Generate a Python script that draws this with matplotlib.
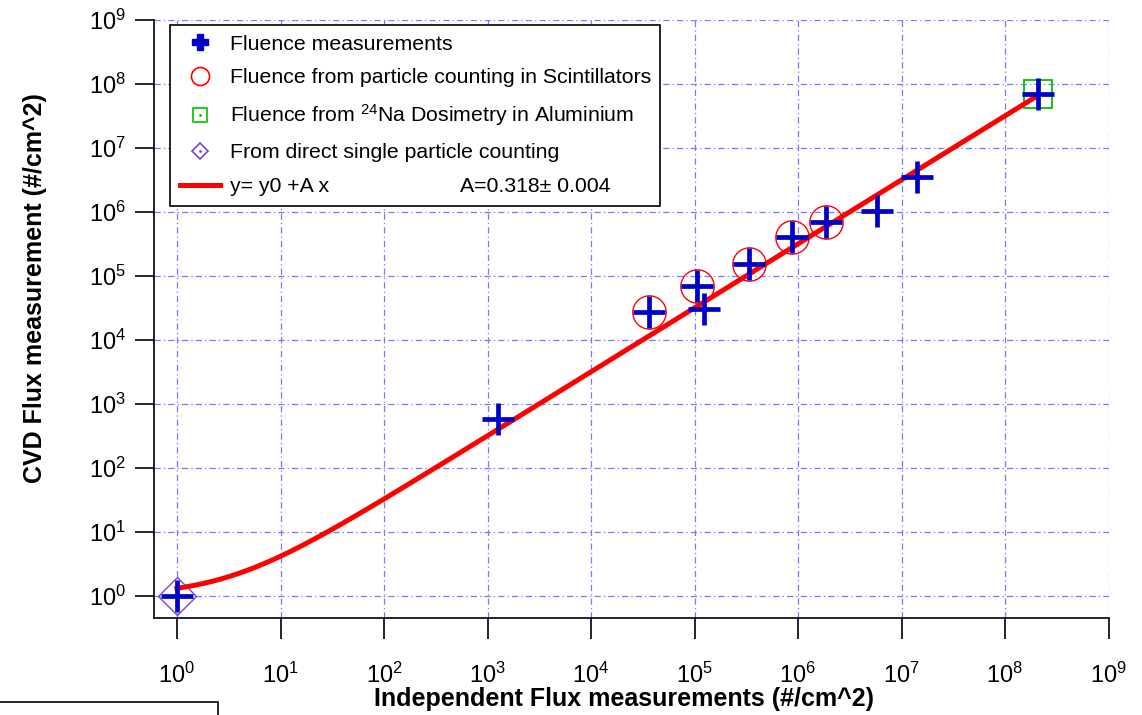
import numpy as np
import matplotlib
matplotlib.use("Agg")
import matplotlib.pyplot as plt
from matplotlib.lines import Line2D
from matplotlib.patches import Rectangle
from matplotlib.legend_handler import HandlerTuple

plt.rcParams['font.family'] = ['Liberation Sans', 'DejaVu Sans']
plt.rcParams['mathtext.fontset'] = 'custom'
plt.rcParams['mathtext.rm'] = 'Liberation Sans'
plt.rcParams['mathtext.it'] = 'Liberation Sans:italic'
plt.rcParams['mathtext.bf'] = 'Liberation Sans:bold'

# fluence measurements (independent, CVD)
flux_x = [1, 1260, 3.63e4, 1.06e5, 1.24e5, 3.37e5, 8.7e5, 1.86e6, 5.8e6, 1.41e7, 2.09e8]
flux_y = [1, 580, 2.74e4, 6.9e4, 3.0e4, 1.54e5, 4.07e5, 6.9e5, 1.04e6, 3.5e6, 6.9e7]

# scintillator counting points
scint_x = [3.63e4, 1.06e5, 3.37e5, 8.7e5, 1.86e6]
scint_y = [2.74e4, 6.9e4, 1.54e5, 4.07e5, 6.9e5]

# 24Na dosimetry
na_x = [2.09e8]
na_y = [6.9e7]

# direct single particle counting
direct_x = [1]
direct_y = [1]

# linear fit y = y0 + A x
y0 = 1.0
A = 0.318
A_err = 0.004
fit_range = (1, 2.09e8)

blue = '#0000C8'
grid_col = '#7878FF'

fig = plt.figure(figsize=(11.42, 7.15), dpi=100)
ax = fig.add_axes([154 / 1142, 97 / 715, 954.5 / 1142, 598 / 715])

fit_x = np.logspace(np.log10(fit_range[0]), np.log10(fit_range[1]), 400)
ax.plot(fit_x, y0 + A * fit_x, color='red', lw=3.6, zorder=3)

ax.plot(direct_x, direct_y, ls='none', marker='D', ms=19, mfc='none',
        mec='#8040E0', mew=1.0, zorder=2)
ax.plot(na_x, na_y, ls='none', marker='s', ms=20, mfc='none',
        mec='#00C000', mew=1.3, zorder=2)
ax.plot(scint_x, scint_y, ls='none', marker='o', ms=24, mfc='none',
        mec='red', mew=1.0, zorder=2)
ax.plot(flux_x, flux_y, ls='none', marker='+', ms=23, mec=blue, mew=3.4, zorder=4)

ax.set_xscale('log')
ax.set_yscale('log')
ax.set_xlim(10 ** (-23 / 103.5), 1e9)
ax.set_ylim(10 ** (-22 / 64), 1e9)
ax.set_xticks([10.0 ** k for k in range(10)])
ax.set_yticks([10.0 ** k for k in range(10)])
ax.minorticks_off()

ax.grid(True, color=grid_col, lw=0.9, ls=(0, (5, 2.5, 1, 2.5)))
ax.set_axisbelow(True)

for s in ['top', 'right']:
    ax.spines[s].set_visible(False)
for s in ['left', 'bottom']:
    ax.spines[s].set_linewidth(1.2)

ax.tick_params(axis='x', direction='out', length=15, width=1.2, pad=17, labelsize=17)
ax.tick_params(axis='y', direction='out', length=14, width=1.2, pad=6, labelsize=17)

ax.set_xlabel('Independent Flux measurements (#/cm^2)', fontsize=18, fontweight='bold')
ax.set_ylabel('CVD Flux measurement (#/cm^2)', fontsize=18, fontweight='bold')
ax.xaxis.set_label_coords(0.492, -0.116)
ax.yaxis.set_label_coords(-0.112, 0.552)

# legend
h_cross = Line2D([], [], ls='none', marker='P', ms=11, mfc=blue, mec=blue)
h_circ = Line2D([], [], ls='none', marker='o', ms=13, mfc='none', mec='red', mew=1.2)
h_sq = Line2D([], [], ls='none', marker='s', ms=10, mfc='none', mec='#00C000', mew=1.2)
h_sq_dot = Line2D([], [], ls='none', marker='.', ms=2, color='#00C000')
h_dia = Line2D([], [], ls='none', marker='D', ms=8.5, mfc='none', mec='#8040E0', mew=1.2)
h_dia_dot = Line2D([], [], ls='none', marker='.', ms=2, color='#8040E0')
h_fit = Line2D([], [], color='red', lw=3.6)

labels = ['Fluence measurements',
          'Fluence from particle counting in Scintillators',
          r'Fluence from $^{24}$Na Dosimetry in Aluminium',
          'From direct single particle counting',
          'y= y0 +A x']
leg = ax.legend([h_cross, h_circ, (h_sq, h_sq_dot), (h_dia, h_dia_dot), h_fit], labels,
                handler_map={tuple: HandlerTuple(ndivide=1, pad=0)},
                loc='upper left', bbox_to_anchor=(16 / 954.5, 1 - 5 / 598),
                borderaxespad=0, fontsize=15.3, frameon=True, fancybox=False,
                edgecolor='black', framealpha=1, handlelength=1.9,
                handletextpad=0.45, labelspacing=0.7, borderpad=0.45)
leg.get_frame().set_linewidth(1.2)
leg.set_zorder(5)

# fit parameter, on the same row as the fit entry
ax.annotate('A=%.3f\u00b1 %.3f' % (A, A_err), xy=((460 - 154) / 954.5, 0.5),
            xycoords=('axes fraction', leg.get_texts()[-1]),
            fontsize=15.3, va='center', ha='left', zorder=6)

# box fragment in the lower-left corner
fig.add_artist(Rectangle((-0.01, -0.01), 218 / 1142 + 0.01, 13 / 715 + 0.01,
                         transform=fig.transFigure, fill=False, ec='black', lw=1.2))

fig.savefig('out.png', dpi=100)
